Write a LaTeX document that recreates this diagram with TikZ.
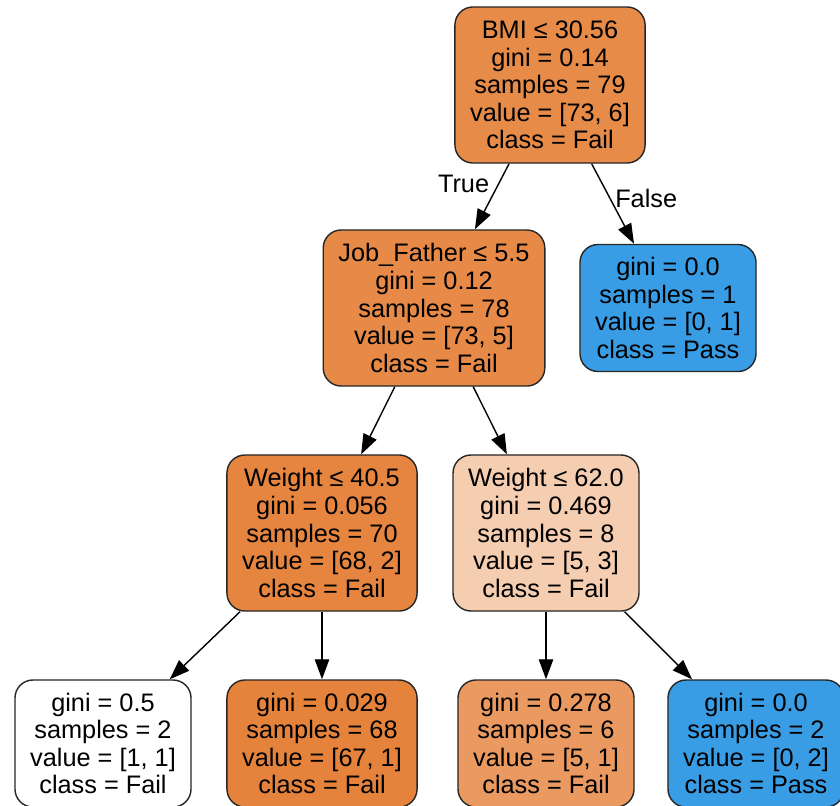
\documentclass[tikz,border=0pt]{standalone}
\usepackage{fontspec}
\setmainfont{Liberation Sans}
\usetikzlibrary{arrows.meta}
\definecolor{failA}{HTML}{E78B49}
\definecolor{failB}{HTML}{E78A48}
\definecolor{failC}{HTML}{E68540}
\definecolor{failD}{HTML}{E5833C}
\definecolor{failE}{HTML}{F5CDB0}
\definecolor{failF}{HTML}{EA9A61}
\definecolor{pass}{HTML}{399DE5}
\begin{document}
\begin{tikzpicture}[x=0.025cm,y=-0.025cm,
  box/.style={draw=black!85,line width=1pt,rounded corners=0.45cm,align=center,
    inner xsep=0.38cm,inner ysep=0.2cm,font=\fontsize{18}{19.6}\selectfont},
  split/.style={box,minimum height=3.9cm},
  leaf/.style={box,minimum height=3.175cm},
  edge/.style={line width=1pt,-{Triangle[length=0.5cm,width=0.36cm]}},
  elabel/.style={font=\fontsize{18}{20}\selectfont}]
\clip (0,0) rectangle (840,805);
% splits
\node[split,fill=failA] (root) at (550,85) {BMI ≤ 30.56\\gini = 0.14\\samples = 79\\value = [73, 6]\\class = Fail};
\node[split,fill=failB] (jf) at (434,308) {Job\_Father ≤ 5.5\\gini = 0.12\\samples = 78\\value = [73, 5]\\class = Fail};
\node[split,fill=failC] (wlow) at (322,533) {Weight ≤ 40.5\\gini = 0.056\\samples = 70\\value = [68, 2]\\class = Fail};
\node[split,fill=failE] (whigh) at (546,533) {Weight ≤ 62.0\\gini = 0.469\\samples = 8\\value = [5, 3]\\class = Fail};
% leaves
\node[leaf,fill=pass] (passA) at (668,308) {gini = 0.0\\samples = 1\\value = [0, 1]\\class = Pass};
\node[leaf,fill=white] (leafA) at (103,743.5) {gini = 0.5\\samples = 2\\value = [1, 1]\\class = Fail};
\node[leaf,fill=failD] (leafB) at (322,743.5) {gini = 0.029\\samples = 68\\value = [67, 1]\\class = Fail};
\node[leaf,fill=failF] (leafC) at (546,743.5) {gini = 0.278\\samples = 6\\value = [5, 1]\\class = Fail};
\node[leaf,fill=pass] (passB) at (756,743.5) {gini = 0.0\\samples = 2\\value = [0, 2]\\class = Pass};
% edges
\draw[edge] (root) -- node[elabel,pos=0.31,left,xshift=-0.1cm] {True} (jf);
\draw[edge] (root) -- node[elabel,pos=0.43,right] {False} (passA);
\draw[edge] (jf) -- (wlow);
\draw[edge] (jf) -- (whigh);
\draw[edge] (wlow) -- (leafA);
\draw[edge] (wlow) -- (leafB);
\draw[edge] (whigh) -- (leafC);
\draw[edge] (whigh) -- (passB);
\end{tikzpicture}
\end{document}
